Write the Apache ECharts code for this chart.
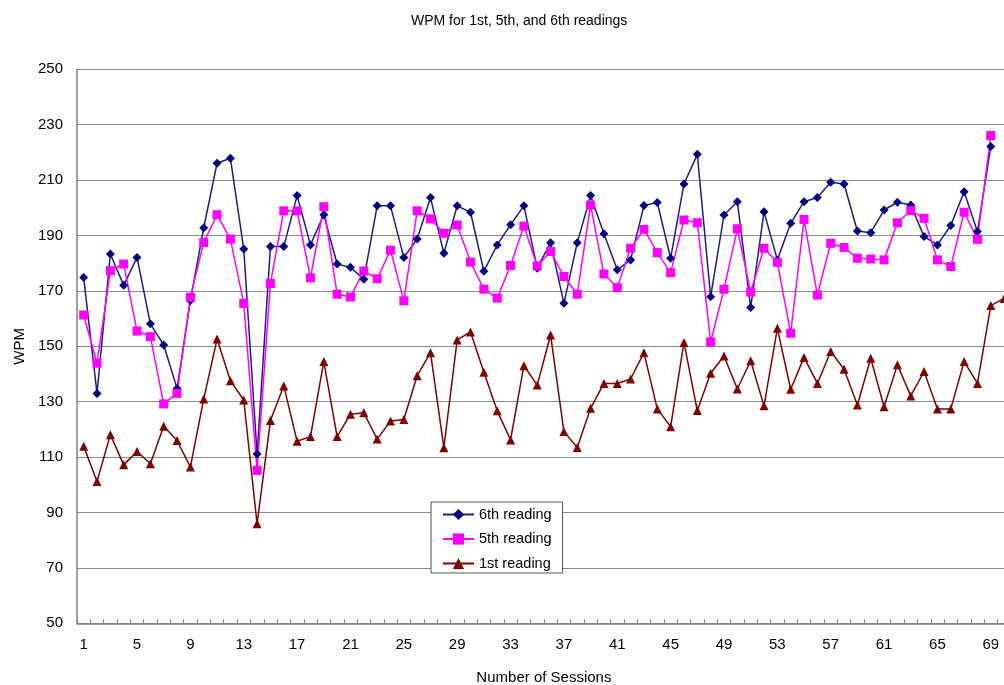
<!DOCTYPE html>
<html>
<head>
<meta charset="utf-8">
<script src="https://cdn.jsdelivr.net/npm/echarts@6/dist/echarts.min.js"></script>
<style>
html,body{margin:0;padding:0;background:#fff;}
#chart{width:1004px;height:685px;}
</style>
</head>
<body>
<div id="chart"></div>
<script>
const categories = [];
for (let i = 1; i <= 70; i++) categories.push(String(i));

const sixthReading = [174.8,133,183.3,172,182.1,158.1,150.5,134.8,166.5,192.8,
  216.1,217.9,185.1,111.1,186,186,204.4,186.6,197.5,179.7,
  178.5,174.2,200.7,200.7,182.1,188.7,203.7,183.6,200.7,198.4,
  177.1,186.6,193.9,200.7,178.2,187.4,165.5,187.4,204.4,190.6,
  177.6,181.2,200.8,201.9,181.8,208.6,219.3,167.9,197.4,202.2,
  164,198.6,181.2,194.4,202.2,203.7,209.2,208.6,191.6,191,
  199.2,202,201,189.6,186.6,193.6,205.8,191.4,222.1];

const fifthReading = [161.3,143.9,177.3,179.7,155.5,153.5,129.2,133,167.7,187.5,
  197.5,188.7,165.5,105.2,172.7,198.9,198.9,174.7,200.4,168.8,
  167.8,177.2,174.4,184.7,166.4,198.9,196,190.8,193.8,180.4,
  170.6,167.4,179.2,193.4,179,184.2,175.2,168.8,201,176.1,
  171.2,185.4,192.2,183.8,176.6,195.6,194.6,151.6,170.6,192.4,
  169.6,185.4,180.3,154.7,195.8,168.5,187.2,185.7,181.8,181.5,
  181.2,194.6,199,196.2,181.2,178.8,198.4,188.6,226.1];

const firstReading = [113.9,101.2,118.1,107.2,112,107.6,121.1,116,106.4,131,
  152.6,137.6,130.6,85.9,123.2,135.7,115.7,117.4,144.5,117.4,
  125.5,126,116.5,123,123.6,139.4,147.7,113.4,152.3,155.2,
  140.6,126.7,116.2,143,136,154.1,119.2,113.5,127.6,136.6,
  136.6,138.2,147.7,127.4,121,151.4,126.8,140.3,146.5,134.6,
  144.8,128.5,156.5,134.5,146,136.6,148.1,141.7,128.8,145.7,
  128.2,143.3,132.1,140.9,127.4,127.4,144.5,136.6,164.7,167.3];

const seriesNames = ['6th reading', '5th reading', '1st reading'];
const yTicks = { min: 50, max: 250, interval: 20 };

const font = "'Liberation Sans', Arial, sans-serif";
const chart = echarts.init(document.getElementById('chart'), null, { renderer: 'canvas' });

chart.setOption({
  animation: false,
  backgroundColor: '#ffffff',
  title: {
    text: 'WPM for 1st, 5th, and 6th readings',
    left: 406,
    top: 9,
    textStyle: { fontFamily: font, fontSize: 14, fontWeight: 'normal', color: '#000' }
  },
  legend: {
    data: seriesNames,
    orient: 'vertical',
    left: 431,
    top: 502,
    padding: [5, 11, 2, 11],
    itemWidth: 31,
    itemHeight: 14,
    itemGap: 9.5,
    backgroundColor: '#ffffff',
    borderColor: '#555555',
    borderWidth: 1,
    textStyle: { fontFamily: font, fontSize: 14.5, color: '#000' }
  },
  grid: {
    left: 77,
    top: 69.3,
    width: 933.8,
    height: 554,
    containLabel: false,
    outerBoundsMode: 'none'
  },
  xAxis: {
    type: 'category',
    data: categories,
    boundaryGap: true,
    name: 'Number of Sessions',
    nameLocation: 'middle',
    nameGap: 47,
    nameTextStyle: { fontFamily: font, fontSize: 15, color: '#000' },
    axisLine: { lineStyle: { color: '#808080', width: 1.5 } },
    axisTick: { show: true, inside: true, length: 4, interval: 0, lineStyle: { color: '#808080' } },
    axisLabel: { interval: 3, margin: 14, fontFamily: font, fontSize: 15, color: '#000' },
    splitLine: { show: false }
  },
  yAxis: {
    type: 'value',
    min: yTicks.min,
    max: yTicks.max,
    interval: yTicks.interval,
    name: 'WPM',
    nameLocation: 'middle',
    nameGap: 50,
    nameRotate: 90,
    nameTextStyle: { fontFamily: font, fontSize: 15, color: '#000' },
    axisLine: { show: true, lineStyle: { color: '#808080', width: 1.5 } },
    axisTick: { show: false },
    axisLabel: { margin: 14, fontFamily: font, fontSize: 15, color: '#000' },
    splitLine: { show: true, lineStyle: { color: '#8a8a8a', width: 1.2 } }
  },
  series: [
    {
      name: seriesNames[0],
      type: 'line',
      data: sixthReading,
      symbol: 'diamond',
      symbolSize: 9,
      showAllSymbol: true,
      itemStyle: { color: '#000080' },
      lineStyle: { color: '#1c1c88', width: 1.5 }
    },
    {
      name: seriesNames[1],
      type: 'line',
      data: fifthReading,
      symbol: 'rect',
      symbolSize: 9,
      showAllSymbol: true,
      itemStyle: { color: '#ff00ff' },
      lineStyle: { color: '#ff00ff', width: 1.5 }
    },
    {
      name: seriesNames[2],
      type: 'line',
      data: firstReading,
      symbol: 'triangle',
      symbolSize: 9,
      showAllSymbol: true,
      itemStyle: { color: '#800000' },
      lineStyle: { color: '#800000', width: 1.5 }
    }
  ]
});
</script>
</body>
</html>
